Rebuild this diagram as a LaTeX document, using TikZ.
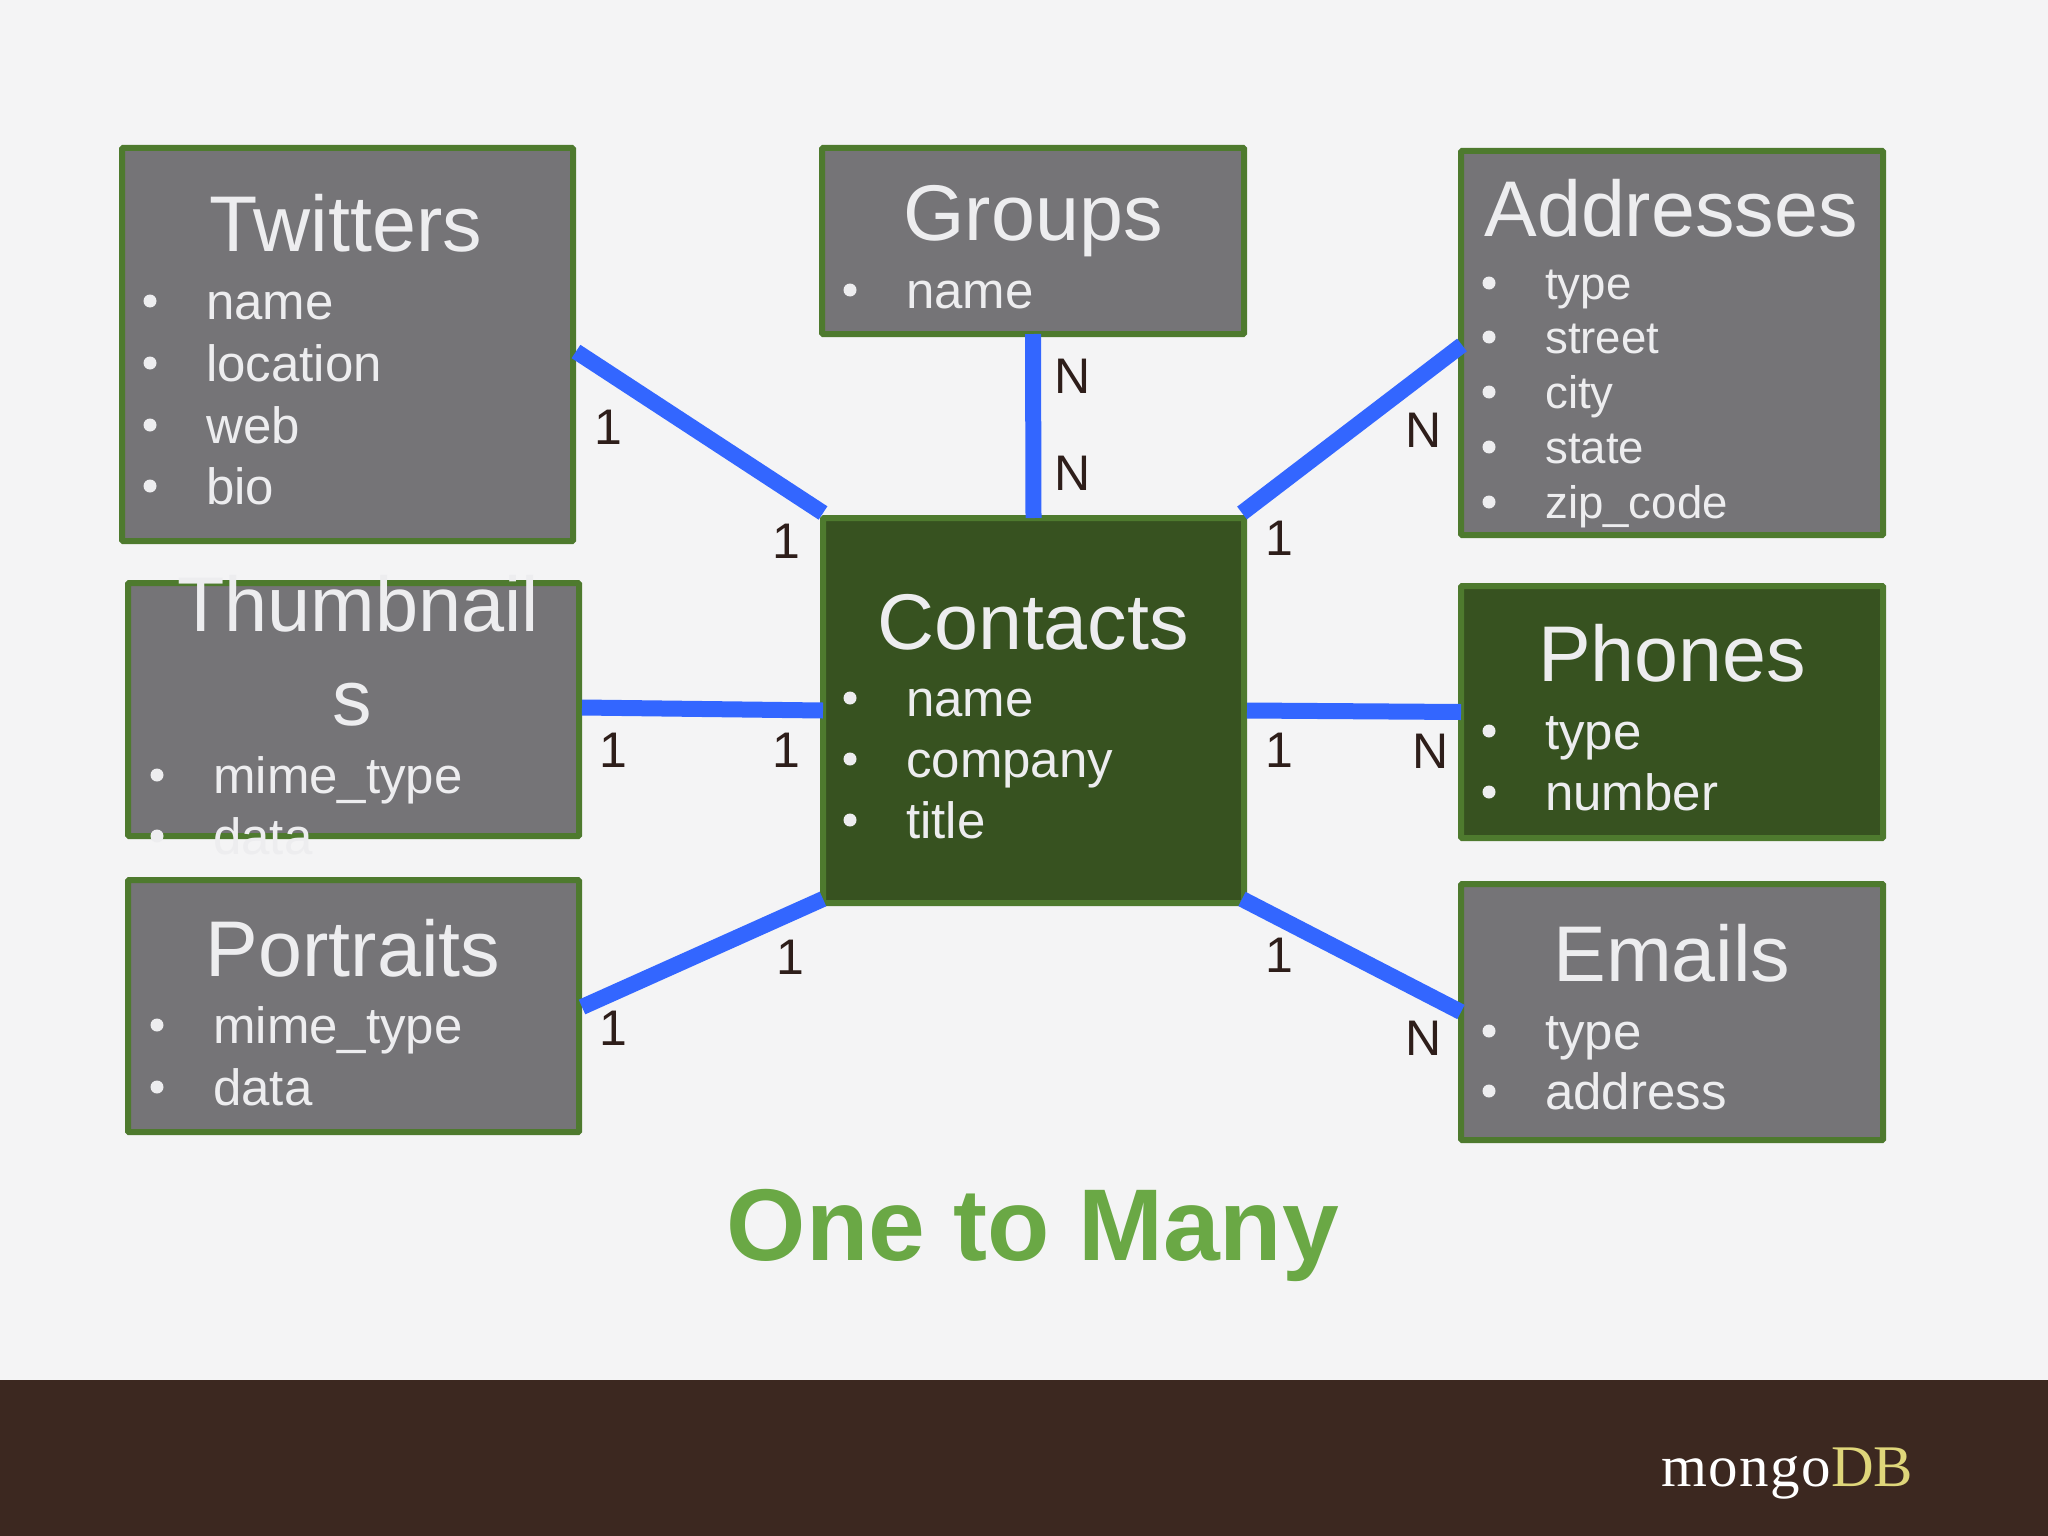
\documentclass[tikz,border=0pt]{standalone}
\usepackage{fontspec}
\setmainfont{Liberation Sans}
\newfontfamily\logofont{Liberation Serif}
\newfontfamily\logofontwide[LetterSpace=2.5]{Liberation Serif}
\definecolor{pagebg}{HTML}{F4F4F5}
\definecolor{footbg}{HTML}{3C2820}
\definecolor{boxgray}{HTML}{757477}
\definecolor{boxdark}{HTML}{375220}
\definecolor{boxline}{HTML}{4E7A2E}
\definecolor{txtlight}{HTML}{EDEDEF}
\definecolor{wire}{HTML}{3366FF}
\definecolor{lbl}{HTML}{2E1E1A}
\definecolor{headgreen}{HTML}{6AA845}
\definecolor{logoyellow}{HTML}{DFD67A}
\tikzset{
  entity/.style={draw=boxline,line width=6pt,rounded corners=1pt,inner sep=0pt,outer sep=0pt},
  grayent/.style={entity,fill=boxgray},
  darkent/.style={entity,fill=boxdark},
  heading/.style={anchor=base,inner sep=0pt,text=txtlight,font=\fontsize{79}{96}\selectfont},
  rowtext/.style={anchor=base west,inner sep=0pt,text=txtlight,font=\fontsize{51}{60}\selectfont},
  rowtextsm/.style={anchor=base west,inner sep=0pt,text=txtlight,font=\fontsize{45.6}{54}\selectfont},
  dotmark/.style={circle,fill=txtlight,minimum size=13pt,inner sep=0pt},
  wireline/.style={draw=wire,line width=16pt},
  card/.style={anchor=center,inner sep=0pt,text=lbl,font=\fontsize{50}{60}\selectfont},
}
% name, x0, y0, x1, y1, style
\newcommand{\entbox}[6]{\node[#6,minimum width={(#4-#2)*1pt},minimum height={(#5-#3)*1pt}] (#1) at ({(#2+#4)/2},{(#3+#5)/2}) {};}
% name, bullet x, text x, baseline, text, style
\newcommand{\rowline}[6]{\node[dotmark] (#1b) at (#2,#4-18) {};\node[#6] (#1) at (#3,#4) {#5};}
\newcommand{\rowlinesm}[6]{\node[dotmark] (#1b) at (#2,#4-16) {};\node[#6] (#1) at (#3,#4) {#5};}
\begin{document}
\begin{tikzpicture}[x=1pt,y=-1pt]
\useasboundingbox (0,0) rectangle (2048,1536);
\fill[pagebg] (0,0) rectangle (2048,1536);
\fill[footbg] (0,1380) rectangle (2048,1536);

\entbox{twitters}{122}{148}{573}{541}{grayent}
\entbox{groups}{822}{148}{1244}{334}{grayent}
\entbox{addresses}{1461}{151}{1883}{535}{grayent}
\entbox{thumbs}{128}{583}{579}{836}{grayent}
\entbox{contacts}{823}{518}{1244}{903}{darkent}
\entbox{phones}{1461}{586}{1883}{838}{darkent}
\entbox{portraits}{128}{880}{579}{1132}{grayent}
\entbox{emails}{1461}{884}{1883}{1140}{grayent}

\draw[wireline] ([xshift=3pt,yshift=-7pt]twitters.east) -- ([xshift=0pt,yshift=5pt]contacts.north west);
\draw[wireline] (groups.south) -- (contacts.north);
\draw[wireline] ([xshift=1pt,yshift=-2pt]addresses.west) -- ([xshift=-2pt,yshift=5pt]contacts.north east);
\draw[wireline] ([xshift=3pt,yshift=2pt]thumbs.east) -- ([xshift=0pt,yshift=0pt]contacts.west);
\draw[wireline] ([xshift=3pt,yshift=0pt]contacts.east) -- ([yshift=0pt]phones.west);
\draw[wireline] ([xshift=3pt,yshift=-1pt]portraits.east) -- ([xshift=0pt,yshift=4pt]contacts.south west);
\draw[wireline] ([xshift=-2pt,yshift=4pt]contacts.south east) -- ([xshift=0pt,yshift=0pt]emails.west);

\node[heading] (twt) at (346,251) {Twitters};
\rowline{t1}{150}{206}{319}{name}{rowtext}
\rowline{t2}{150}{206}{381}{location}{rowtext}
\rowline{t3}{150}{206}{443}{web}{rowtext}
\rowline{t4}{150}{206}{504}{bio}{rowtext}

\node[heading] (grt) at (1033,240) {Groups};
\rowline{g1}{850}{906}{308}{name}{rowtext}

\node[heading] (adt) at (1671,236) {Addresses};
\rowlinesm{a1}{1489}{1545}{299}{type}{rowtextsm}
\rowlinesm{a2}{1489}{1545}{353}{street}{rowtextsm}
\rowlinesm{a3}{1489}{1545}{408}{city}{rowtextsm}
\rowlinesm{a4}{1489}{1545}{463}{state}{rowtextsm}
\rowlinesm{a5}{1489}{1545}{518}{zip\_code}{rowtextsm}

\node[heading,font=\fontsize{77.5}{96}\selectfont] (tht) at (358,631) {Thumbnail};
\node[heading] (ths) at (352,725) {s};
\rowline{h1}{157}{213}{793}{mime\_type}{rowtext}
\rowline{h2}{157}{213}{854}{data}{rowtext}

\node[heading] (cot) at (1033,649) {Contacts};
\rowline{c1}{850}{906}{716}{name}{rowtext}
\rowline{c2}{850}{906}{777}{company}{rowtext}
\rowline{c3}{850}{906}{838}{title}{rowtext}

\node[heading] (pht) at (1672,681) {Phones};
\rowline{p1}{1489}{1545}{749}{type}{rowtext}
\rowline{p2}{1489}{1545}{810}{number}{rowtext}

\node[heading] (pot) at (353,976) {Portraits};
\rowline{o1}{157}{213}{1043}{mime\_type}{rowtext}
\rowline{o2}{157}{213}{1105}{data}{rowtext}

\node[heading] (emt) at (1672,981) {Emails};
\rowline{e1}{1489}{1545}{1049}{type}{rowtext}
\rowline{e2}{1489}{1545}{1109}{address}{rowtext}

\node[card] (k1) at (608,427) {1};
\node[card] (k2) at (786,541) {1};
\node[card] (k3) at (1073,376) {N};
\node[card] (k4) at (1073,473) {N};
\node[card] (k5) at (1424,430) {N};
\node[card] (k6) at (1279,538) {1};
\node[card] (k7) at (613,750) {1};
\node[card] (k8) at (786,750) {1};
\node[card] (k9) at (1279,750) {1};
\node[card] (k10) at (1431,751) {N};
\node[card] (k11) at (790,957) {1};
\node[card] (k12) at (613,1028) {1};
\node[card] (k13) at (1279,955) {1};
\node[card] (k14) at (1424,1038) {N};

\node[anchor=base,inner sep=0pt,text=headgreen,font=\fontsize{102}{120}\selectfont\bfseries] (headline) at (1033,1260) {One to Many};
\node[anchor=base west,inner sep=0pt,font=\fontsize{59}{70}\selectfont] (logo) at (1661,1486) {\textcolor{white}{\logofontwide mongo}\textcolor{logoyellow}{\logofont DB}};
\end{tikzpicture}
\end{document}
